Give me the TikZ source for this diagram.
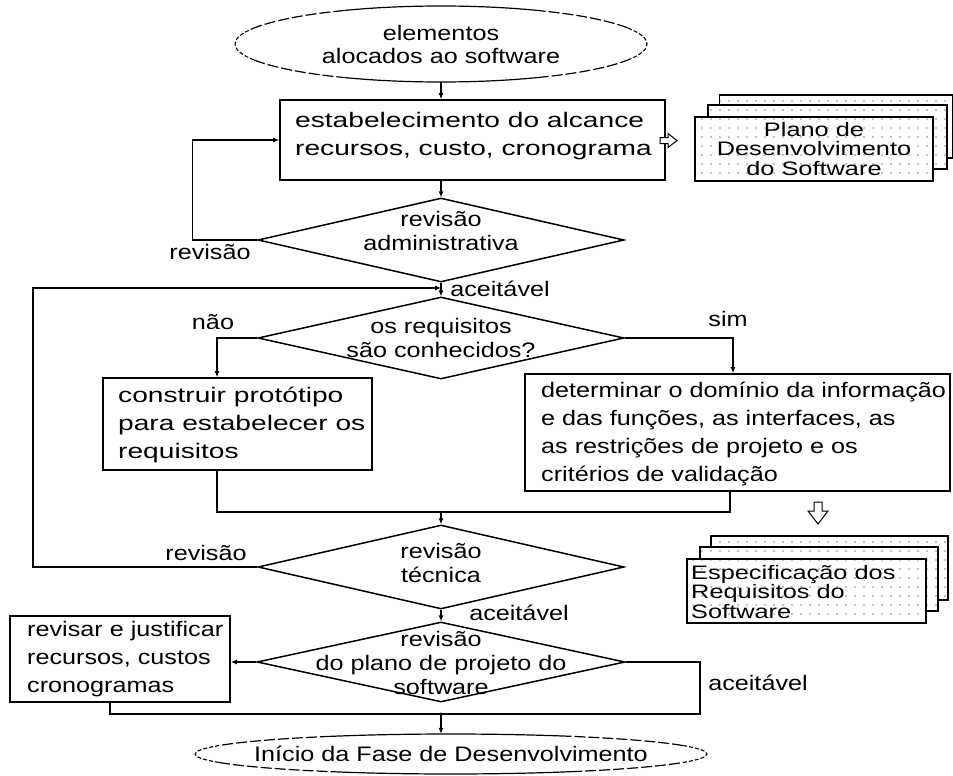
\documentclass[tikz,border=0pt]{standalone}
\usepackage{fontspec}
\setmainfont{Liberation Sans}[FakeStretch=1.2]
\newfontfamily\docfont{Liberation Sans}[FakeStretch=1.3]
\newfontfamily\widefont{Liberation Sans}[FakeStretch=1.34]
\usetikzlibrary{shapes.geometric, arrows.meta, patterns.meta, calc}

\begin{document}
\begin{tikzpicture}[x=1pt, y=-1pt,
  every node/.style={inner sep=0pt, font=\fontsize{21}{28}\selectfont},
  box/.style={draw, rectangle, line width=1.6pt, fill=white},
  boxtext/.style={anchor=west, align=left},
  widetext/.style={boxtext, font=\widefont\fontsize{21}{28}\selectfont},
  decision/.style={draw, diamond, line width=1.5pt, inner sep=0pt, minimum width=366pt},
  dectext/.style={align=center, font=\fontsize{21}{24}\selectfont},
  conn/.style={line width=1.1pt},
  arr/.style={conn, -{Latex[length=6pt, width=5pt]}},
  ellsolid/.style={line width=1.2pt},
  ellmid/.style={line width=1.2pt, dash pattern=on 11pt off 3pt},
  ellfine/.style={line width=1.1pt, dash pattern=on 4pt off 2pt},
  docpage/.style={draw, rectangle, line width=1.6pt, fill=white,
    postaction={pattern={Dots[distance=9pt, radius=0.6pt]}}},
  doctext/.style={font=\docfont\fontsize{19.5}{19.5}\selectfont},
  hollow/.style={draw, line width=1pt, fill=white, line join=miter}
]
\useasboundingbox (0,0) rectangle (953,776);

% start and end terminals
\node[ellipse, minimum width=412pt, minimum height=76pt, align=center,
      font=\fontsize{21}{23}\selectfont] (start) at (441,44) {elementos\\alocados ao software};
\node[ellipse, minimum width=512pt, minimum height=40pt] (finish) at (451,754)
      {Início da Fase de Desenvolvimento};

% terminal outlines: solid at top and bottom, dashed towards the ends
\foreach \a/\b/\st in {-25/25/ellfine, 25/62/ellmid, 62/118/ellsolid, 118/155/ellmid,
                       155/205/ellfine, 205/242/ellmid, 242/298/ellsolid, 298/335/ellmid}{
  \draw[\st] ([shift={(\a:206pt and 38pt)}]start.center)
    arc[start angle=\a, end angle=\b, x radius=206pt, y radius=38pt];
  \draw[\st] ([shift={(\a:256pt and 20pt)}]finish.center)
    arc[start angle=\a, end angle=\b, x radius=256pt, y radius=20pt];
}

% process boxes
\node[box, minimum width=385pt, minimum height=80pt] (b1) at (472.5,140) {};
\node[widetext] (b1t) at (295,136) {estabelecimento do alcance\\recursos, custo, cronograma};

\node[box, minimum width=269pt, minimum height=92pt] (b2) at (237.5,424) {};
\node[widetext] (b2t) at (118,425) {construir protótipo\\para estabelecer os\\requisitos};

\node[box, minimum width=425pt, minimum height=117pt] (b3) at (737.5,432.5) {};
\node[boxtext] (b3t) at (541,434) {determinar o domínio da informação\\e das funções, as interfaces, as\\as restrições de projeto e os\\critérios de validação};

\node[box, minimum width=220pt, minimum height=86pt] (b4) at (120,659) {};
\node[boxtext] (b4t) at (27,659) {revisar e justificar\\recursos, custos\\cronogramas};

% decisions
\node[decision, minimum height=84pt] (d1) at (441,240) {};
\node[dectext] (d1t) at (441,231) {revisão\\administrativa};

\node[decision, minimum height=82pt] (d2) at (441,338) {};
\node[dectext] (d2t) at (441,338) {os requisitos\\são conhecidos?};

\node[decision, minimum height=84pt] (d3) at (441,567) {};
\node[dectext] (d3t) at (441,563) {revisão\\técnica};

\node[decision, minimum height=80pt, minimum width=368pt] (d4) at (441,662) {};
\node[dectext] (d4t) at (441,663) {revisão\\do plano de projeto do\\software};

% junctions
\coordinate (j1) at (441,288);
\coordinate (j2) at (441,512);
\coordinate (j3) at (441,714);
\coordinate (leftrail) at (33,288);
\coordinate (rightrail) at (700,714);

% connectors
\draw[arr] (start.south) -- (start.south |- b1.north);
\draw[arr] (b1.south -| d1.north) -- (d1.north);
\draw[arr] (d1.west) -- ([xshift=-65pt]d1.west) |- (b1.west);
\draw[arr] (d1.south) -- (d2.north);
\draw[arr] (d3.west) -| (leftrail) -- (j1);
\draw[arr] (d2.west) -| ([xshift=-20.5pt]b2.north);
\draw[arr] (d2.east) -| ([xshift=-4.5pt]b3.north);
\draw[conn] ([xshift=-20.5pt]b2.south) |- (j2);
\draw[conn] ([xshift=-7.5pt]b3.south) |- (j2);
\draw[arr] (j2) -- (d3.north);
\draw[arr] (d3.south) -- (d4.north);
\draw[arr] (d4.west) -- (d4.west -| b4.east);
\draw[conn] ([xshift=-10pt]b4.south) |- (j3);
\draw[conn] (d4.east) -| (rightrail) -- (j3);
\fill (j3) circle (1.6pt);
\draw[arr] (j3) -- (j3 |- finish.north);

% connector labels
\node (l1) at (210,252) {revisão};
\node (l2) at (500,289) {aceitável};
\node (l3) at (213,322) {não};
\node (l4) at (728,319) {sim};
\node (l5) at (206,553) {revisão};
\node (l6) at (519,613) {aceitável};
\node (l7) at (758,683) {aceitável};

% output documents
\node[docpage, minimum width=233pt, minimum height=63pt] (p1c) at (836,126.5) {};
\node[docpage, minimum width=239pt, minimum height=64pt] (p1b) at (827.5,137) {};
\node[docpage, minimum width=238pt, minimum height=64pt, align=center, doctext] (p1a) at (814,149)
      {Plano de\\Desenvolvimento\\do Software};

\node[docpage, minimum width=237pt, minimum height=64pt] (p2c) at (829.5,568) {};
\node[docpage, minimum width=238pt, minimum height=64pt] (p2b) at (819,579) {};
\node[docpage, minimum width=239pt, minimum height=64pt] (p2a) at (806.5,591) {};
\node[doctext, anchor=west, align=left] (p2t) at (691,592) {Especificação dos\\Requisitos do\\Software};

% hollow flow arrows towards the documents
\draw[hollow] (660,137.5) -- (668,137.5) -- (668,133.5) -- (677,140.5) -- (668,147.5)
  -- (668,143.5) -- (660,143.5) -- cycle;
\draw[hollow] (814,502) -- (822,502) -- (822,511) -- (828,511) -- (818,524) -- (808,511)
  -- (814,511) -- cycle;
\end{tikzpicture}
\end{document}
